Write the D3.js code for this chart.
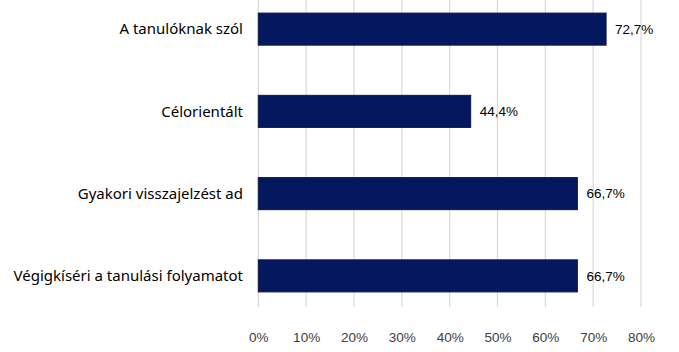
<!DOCTYPE html>
<html>
<head>
<meta charset="utf-8">
<script src="https://cdn.jsdelivr.net/npm/d3@7"></script>
<style>
  body { margin: 0; background: #fff; }
  svg { display: block; }
</style>
</head>
<body>
<svg id="chart"></svg>
<script>
const categories = ["A tanulóknak szól", "Célorientált", "Gyakori visszajelzést ad", "Végigkíséri a tanulási folyamatot"];
const values = [72.7, 44.4, 66.7, 66.7];
const ticks = [0, 10, 20, 30, 40, 50, 60, 70, 80];

const W = 679, H = 352;
const plot = { left: 258.3, right: 641, top: 0, bottom: 307 };

const svg = d3.select("#chart").attr("width", W).attr("height", H);

const x = d3.scaleLinear().domain([0, 80]).range([plot.left, plot.right]);
const y = d3.scaleBand().domain(categories).range([-12, 317])
  .paddingInner(0.61).paddingOuter(0.305);

// gridlines
svg.append("g")
  .selectAll("line")
  .data(ticks)
  .enter().append("line")
  .attr("x1", d => x(d)).attr("x2", d => x(d))
  .attr("y1", plot.top).attr("y2", plot.bottom)
  .attr("stroke", "#d9d9d9")
  .attr("stroke-width", 1.2);

// bars
svg.append("g")
  .selectAll("rect")
  .data(values)
  .enter().append("rect")
  .attr("x", x(0))
  .attr("y", (d, i) => y(categories[i]))
  .attr("width", d => x(d) - x(0))
  .attr("height", y.bandwidth())
  .attr("fill", "#05175f")
  .attr("stroke", "#0d1a48")
  .attr("stroke-width", 1);

// value labels
svg.append("g")
  .selectAll("text")
  .data(values)
  .enter().append("text")
  .attr("x", d => x(d) + 9)
  .attr("y", (d, i) => y(categories[i]) + y.bandwidth() / 2)
  .attr("dy", "0.35em")
  .attr("font-family", "'Liberation Sans', Arial, sans-serif")
  .attr("font-size", 13.5)
  .attr("fill", "#000")
  .text(d => d.toFixed(1).replace(".", ",") + "%");

// category labels
svg.append("g")
  .selectAll("text")
  .data(categories)
  .enter().append("text")
  .attr("x", 243)
  .attr("y", d => y(d) + y.bandwidth() / 2)
  .attr("dy", "0.35em")
  .attr("text-anchor", "end")
  .attr("font-family", "'Noto Sans', sans-serif")
  .attr("font-size", 15)
  .attr("fill", "#000")
  .text(d => d);

// x axis tick labels
const xAxis = svg.append("g")
  .attr("transform", `translate(0,${plot.bottom})`)
  .call(d3.axisBottom(x).tickValues(ticks).tickSize(0).tickPadding(25).tickFormat(d => d + "%"));
xAxis.select(".domain").remove();
xAxis.selectAll("text")
  .attr("font-family", "'Liberation Sans', Arial, sans-serif")
  .attr("font-size", 13.5)
  .attr("fill", "#404040");
</script>
</body>
</html>
